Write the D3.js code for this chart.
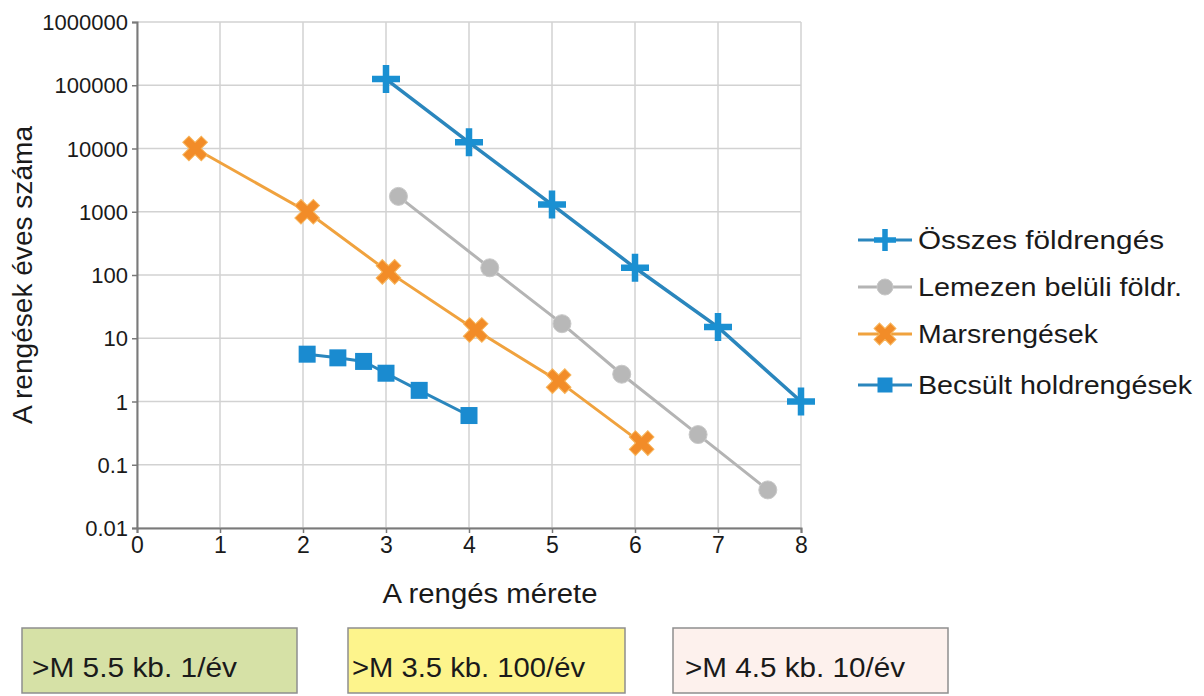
<!DOCTYPE html>
<html>
<head>
<meta charset="utf-8">
<script src="https://cdn.jsdelivr.net/npm/d3@7"></script>
<style>
  body { margin: 0; background: #fff; }
  text { font-family: "Liberation Sans", Arial, sans-serif; fill: #1a1a1a; }
</style>
</head>
<body>
<script>
// data
var yTicks = [0.01, 0.1, 1, 10, 100, 1000, 10000, 100000, 1000000]
var xTicks = [0, 1, 2, 3, 4, 5, 6, 7, 8]

var osszesM = [3, 4, 5, 6, 7, 8]
var osszesN = [125000, 12500, 1300, 130, 15, 1]

var lemezM = [3.15, 4.25, 5.12, 5.84, 6.76, 7.6]
var lemezN = [1750, 130, 17, 2.7, 0.3, 0.04]

var marsM = [0.7, 2.05, 3.03, 4.08, 5.08, 6.08]
var marsN = [10000, 1000, 112, 13.5, 2.1, 0.22]

var holdM = [2.05, 2.42, 2.73, 3.0, 3.4, 4.0]
var holdN = [5.6, 4.9, 4.3, 2.8, 1.5, 0.6]

var seriesNames = ["Összes földrengés", "Lemezen belüli földr.", "Marsrengések", "Becsült holdrengések"]
var boxTexts = [">M 5.5 kb. 1/év", ">M 3.5 kb. 100/év", ">M 4.5 kb. 10/év"]

function plot_it() {
  var width = 1204, height = 696
  var left = 137, right = 801, top = 22, bottom = 528

  var svg = d3.select('body').append('svg').attr('width', width).attr('height', height)

  var x = d3.scaleLinear().domain([0, 8]).range([left, right])
  var y = d3.scaleLog().domain([0.01, 1000000]).range([bottom, top])

  // grid
  var grid = svg.append('g').attr('id', 'grid')
  grid.selectAll('.vg').data(xTicks).enter().append('line')
    .attr('x1', function(d){ return x(d) }).attr('x2', function(d){ return x(d) })
    .attr('y1', top).attr('y2', bottom)
    .attr('stroke', '#d2d2d2').attr('stroke-width', 1.5)
  grid.selectAll('.hg').data(yTicks).enter().append('line')
    .attr('x1', left).attr('x2', right)
    .attr('y1', function(d){ return y(d) }).attr('y2', function(d){ return y(d) })
    .attr('stroke', '#d2d2d2').attr('stroke-width', 1.5)

  // axes
  var yAxis = d3.axisLeft(y).tickValues(yTicks).tickSize(5).tickFormat(function(d){ return String(d) })
  var gy = svg.append('g').attr('transform', 'translate(' + left + ',0)').call(yAxis)
  gy.select('.domain').attr('stroke', '#7a7a7a').attr('stroke-width', 2)
  gy.selectAll('.tick line').attr('stroke', '#7a7a7a').attr('stroke-width', 1.5)
  gy.selectAll('.tick text').attr('x', -9).attr('dy', '0.35em')
    .style('font-size', '22px').style('font-family', '"Liberation Sans", Arial, sans-serif').attr('fill', '#1a1a1a')

  var xAxis = d3.axisBottom(x).tickValues(xTicks).tickSize(5).tickFormat(d3.format('d'))
  var gx = svg.append('g').attr('transform', 'translate(0,' + bottom + ')').call(xAxis)
  gx.select('.domain').attr('stroke', '#7a7a7a').attr('stroke-width', 2)
  gx.selectAll('.tick line').attr('stroke', '#7a7a7a').attr('stroke-width', 1.5)
  gx.selectAll('.tick text').attr('y', 9).attr('dy', '0.71em')
    .style('font-size', '23px').style('font-family', '"Liberation Sans", Arial, sans-serif').attr('fill', '#1a1a1a')

  // titles
  svg.append('text').attr('x', 490).attr('y', 603).attr('text-anchor', 'middle')
    .attr('textLength', 215).attr('lengthAdjust', 'spacingAndGlyphs')
    .style('font-size', '27px').text('A rengés mérete')
  svg.append('text').attr('transform', 'translate(32,275) rotate(-90)').attr('text-anchor', 'middle')
    .attr('textLength', 298).attr('lengthAdjust', 'spacingAndGlyphs')
    .style('font-size', '27px').text('A rengések éves száma')

  // markers
  var plusPath = function(s){ return 'M' + (-s) + ',0H' + s + 'M0,' + (-s) + 'V' + s }
  function drawMarker(g, kind, big) {
    if (kind == 0) {
      var s = big ? 14 : 11
      g.append('path').attr('d', plusPath(s)).attr('stroke', '#1a90d2').attr('stroke-width', big ? 6.5 : 5.5)
    } else if (kind == 1) {
      g.append('circle').attr('r', big ? 9 : 8).attr('fill', '#b8b8b8').attr('stroke', '#c8c8c8')
    } else if (kind == 2) {
      g.append('path').attr('d', d3.symbol(d3.symbolCross, big ? 380 : 300)())
        .attr('transform', 'rotate(45)').attr('fill', '#f28c28').attr('stroke', '#f7b45a').attr('stroke-width', 1)
    } else {
      var h = big ? 8.5 : 7.5
      g.append('rect').attr('x', -h).attr('y', -h).attr('width', 2 * h).attr('height', 2 * h).attr('fill', '#1a8bd0')
    }
  }

  var series = [
    { m: osszesM, n: osszesN, color: '#2a86bd', w: 3.5 },
    { m: lemezM, n: lemezN, color: '#b4b4b4', w: 3 },
    { m: marsM, n: marsN, color: '#f0a23e', w: 3 },
    { m: holdM, n: holdN, color: '#2a86bd', w: 3 }
  ]
  var line = d3.line().x(function(d){ return x(d[0]) }).y(function(d){ return y(d[1]) })

  // draw from back to front: gray, mars, moon, all
  var order = [1, 2, 3, 0]
  order.forEach(function(k) {
    var s = series[k]
    var pts = d3.zip(s.m, s.n)
    svg.append('path').datum(pts).attr('d', line).attr('fill', 'none')
      .attr('stroke', s.color).attr('stroke-width', s.w)
    svg.append('g').selectAll('g').data(pts).enter().append('g')
      .attr('transform', function(d){ return 'translate(' + x(d[0]) + ',' + y(d[1]) + ')' })
      .each(function(){ drawMarker(d3.select(this), k, true) })
  })

  // legend
  var legY = [240, 287, 334, 385]
  var legLen = [246, 264, 180, 274]
  var leg = svg.append('g').attr('id', 'legend')
  seriesNames.forEach(function(name, i) {
    var row = leg.append('g').attr('transform', 'translate(0,' + legY[i] + ')')
    row.append('line').attr('x1', 858).attr('x2', 912).attr('y1', 0).attr('y2', 0)
      .attr('stroke', series[i].color).attr('stroke-width', 3)
    var mg = row.append('g').attr('transform', 'translate(885,0)')
    drawMarker(mg, i, false)
    row.append('text').attr('x', 918).attr('y', 9)
      .attr('textLength', legLen[i]).attr('lengthAdjust', 'spacingAndGlyphs')
      .style('font-size', '26px').text(name)
  })

  // info boxes
  var boxX = [22, 348, 673]
  var boxW = [275, 277, 275]
  var boxFill = ['#d6e1a6', '#fdf48c', '#fdf1ed']
  var textX = [32, 352, 685]
  var textLen = [205, 233, 220]
  boxTexts.forEach(function(t, i) {
    svg.append('rect').attr('x', boxX[i]).attr('y', 628).attr('width', boxW[i]).attr('height', 65)
      .attr('fill', boxFill[i]).attr('stroke', '#8e8e8e').attr('stroke-width', 1.5)
    svg.append('text').attr('x', textX[i]).attr('y', 677)
      .attr('textLength', textLen[i]).attr('lengthAdjust', 'spacingAndGlyphs')
      .style('font-size', '28px').text(t)
  })
}

plot_it()
</script>
</body>
</html>
